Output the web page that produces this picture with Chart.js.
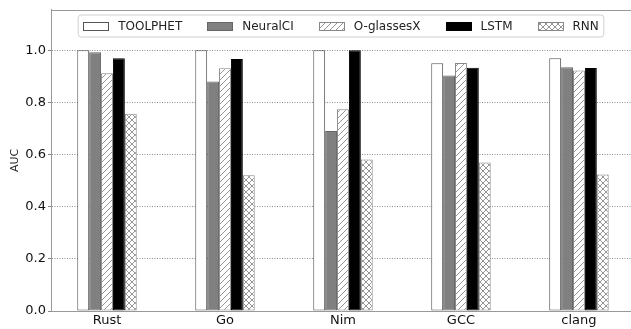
<!DOCTYPE html>
<html>
<head>
<meta charset="utf-8">
<script src="https://cdn.jsdelivr.net/npm/chart.js@4.4.1/dist/chart.umd.min.js"></script>
<style>
  html, body { margin: 0; padding: 0; background: #ffffff; }
  #wrap { width: 631px; height: 329px; }
</style>
</head>
<body>
<div id="wrap"><canvas id="c" width="631" height="329"></canvas></div>
<script>
const categories = ['Rust', 'Go', 'Nim', 'GCC', 'clang'];
const seriesNames = ['TOOLPHET', 'NeuralCI', 'O-glassesX', 'LSTM', 'RNN'];
const toolphet  = [1.000, 1.000, 1.000, 0.950, 0.969];
const neuralci  = [0.992, 0.880, 0.690, 0.903, 0.935];
const oglassesx = [0.912, 0.931, 0.774, 0.951, 0.922];
const lstm      = [0.969, 0.966, 1.000, 0.933, 0.932];
const rnn       = [0.756, 0.521, 0.581, 0.569, 0.523];
const yTicks = [0.0, 0.2, 0.4, 0.6, 0.8, 1.0];

const FONT = 'DejaVu Sans';

function hatch(type) {
  const p = 6;
  const c = document.createElement('canvas');
  c.width = p; c.height = p;
  const g = c.getContext('2d');
  g.fillStyle = '#ffffff';
  g.fillRect(0, 0, p, p);
  g.strokeStyle = '#7a7a7a';
  g.lineWidth = 0.8;
  g.beginPath();
  for (let k = -1; k <= 1; k++) { g.moveTo(k * p, p); g.lineTo(k * p + p, 0); }
  if (type === 'x') {
    for (let k = -1; k <= 1; k++) { g.moveTo(k * p, 0); g.lineTo(k * p + p, p); }
  }
  g.stroke();
  return g.createPattern(c, 'repeat');
}

const toPts = arr => arr.map((v, i) => ({ x: i, y: v }));

const styles = [
  { backgroundColor: '#ffffff', borderColor: '#555555' },
  { backgroundColor: '#808080', borderColor: '#666666' },
  { backgroundColor: hatch('/'), borderColor: '#888888' },
  { backgroundColor: '#000000', borderColor: '#000000' },
  { backgroundColor: hatch('x'), borderColor: '#888888' }
];
const seriesData = [toolphet, neuralci, oglassesx, lstm, rnn];

const datasets = seriesNames.map((name, k) => Object.assign({
  label: name,
  data: toPts(seriesData[k]),
  borderWidth: 1,
  borderSkipped: false
}, styles[k]));

const framePlugin = {
  id: 'frameLegend',
  afterDraw(chart) {
    const ctx = chart.ctx;
    const ca = chart.chartArea;
    ctx.save();
    // top spine
    ctx.strokeStyle = '#999999';
    ctx.lineWidth = 1;
    ctx.beginPath();
    ctx.moveTo(ca.left, Math.round(ca.top) + 0.5);
    ctx.lineTo(ca.right, Math.round(ca.top) + 0.5);
    ctx.stroke();

    // legend
    ctx.font = '12px "' + FONT + '"';
    const handle = 25, gap = 10, col = 25, pad = 5;
    const items = chart.data.datasets.map(ds => ({ ds, w: ctx.measureText(ds.label).width }));
    let total = pad * 2 + col * (items.length - 1);
    items.forEach(it => { total += handle + gap + it.w; });
    const left = (ca.left + ca.right) / 2 - total / 2;
    const top = 15, h = 22, cy = top + h / 2;
    const r = 3;
    ctx.beginPath();
    ctx.moveTo(left + r, top);
    ctx.lineTo(left + total - r, top);
    ctx.arcTo(left + total, top, left + total, top + r, r);
    ctx.lineTo(left + total, top + h - r);
    ctx.arcTo(left + total, top + h, left + total - r, top + h, r);
    ctx.lineTo(left + r, top + h);
    ctx.arcTo(left, top + h, left, top + h - r, r);
    ctx.lineTo(left, top + r);
    ctx.arcTo(left, top, left + r, top, r);
    ctx.closePath();
    ctx.fillStyle = 'rgba(255,255,255,0.85)';
    ctx.fill();
    ctx.strokeStyle = '#d0d0d0';
    ctx.stroke();

    let x = left + pad;
    items.forEach(it => {
      const sy = Math.round(cy - 4) + 0.5;
      ctx.fillStyle = it.ds.backgroundColor;
      ctx.fillRect(Math.round(x) + 0.5, sy, handle, 8);
      ctx.strokeStyle = it.ds.borderColor;
      ctx.lineWidth = 1;
      ctx.strokeRect(Math.round(x) + 0.5, sy, handle, 8);
      ctx.fillStyle = '#222222';
      ctx.textBaseline = 'middle';
      ctx.textAlign = 'left';
      ctx.fillText(it.ds.label, x + handle + gap, cy + 0.5);
      x += handle + gap + it.w + col;
    });
    ctx.restore();
  }
};

new Chart(document.getElementById('c'), {
  type: 'bar',
  data: { datasets },
  options: {
    responsive: false,
    animation: false,
    devicePixelRatio: 1,
    layout: { padding: { top: 7, right: 0, left: 0, bottom: 0 } },
    plugins: {
      legend: { display: false },
      tooltip: { enabled: false }
    },
    datasets: { bar: { categoryPercentage: 0.504, barPercentage: 1.0 } },
    scales: {
      x: {
        type: 'linear',
        min: -0.4746,
        max: 4.441,
        offset: false,
        afterBuildTicks: a => { a.ticks = categories.map((_, i) => ({ value: i })); },
        afterFit: a => { a.height = 18; },
        grid: { display: false, drawTicks: false },
        border: { display: true, color: '#999999', width: 1 },
        ticks: {
          padding: 2,
          autoSkip: false,
          maxRotation: 0,
          color: '#111111',
          font: { family: FONT, size: 13 },
          callback: v => categories[v]
        }
      },
      y: {
        min: 0,
        max: 1.155,
        afterBuildTicks: a => { a.ticks = yTicks.map(v => ({ value: v })); },
        afterFit: a => { a.width = 51; },
        grid: {
          color: c => (c.tick && c.tick.value === 0) ? 'rgba(0,0,0,0)' : '#8c8c8c',
          lineWidth: 1,
          drawTicks: true,
          tickLength: 3,
          tickColor: '#888888',
          tickBorderDash: []
        },
        border: { display: true, color: '#999999', width: 1, dash: [1, 1.5] },
        ticks: {
          padding: 2,
          color: '#111111',
          font: { family: FONT, size: 13 },
          callback: v => v.toFixed(1)
        },
        title: {
          display: true,
          text: 'AUC',
          color: '#222222',
          font: { family: FONT, size: 11 },
          padding: { top: 9, bottom: 0 }
        }
      }
    }
  },
  plugins: [framePlugin]
});
</script>
</body>
</html>
